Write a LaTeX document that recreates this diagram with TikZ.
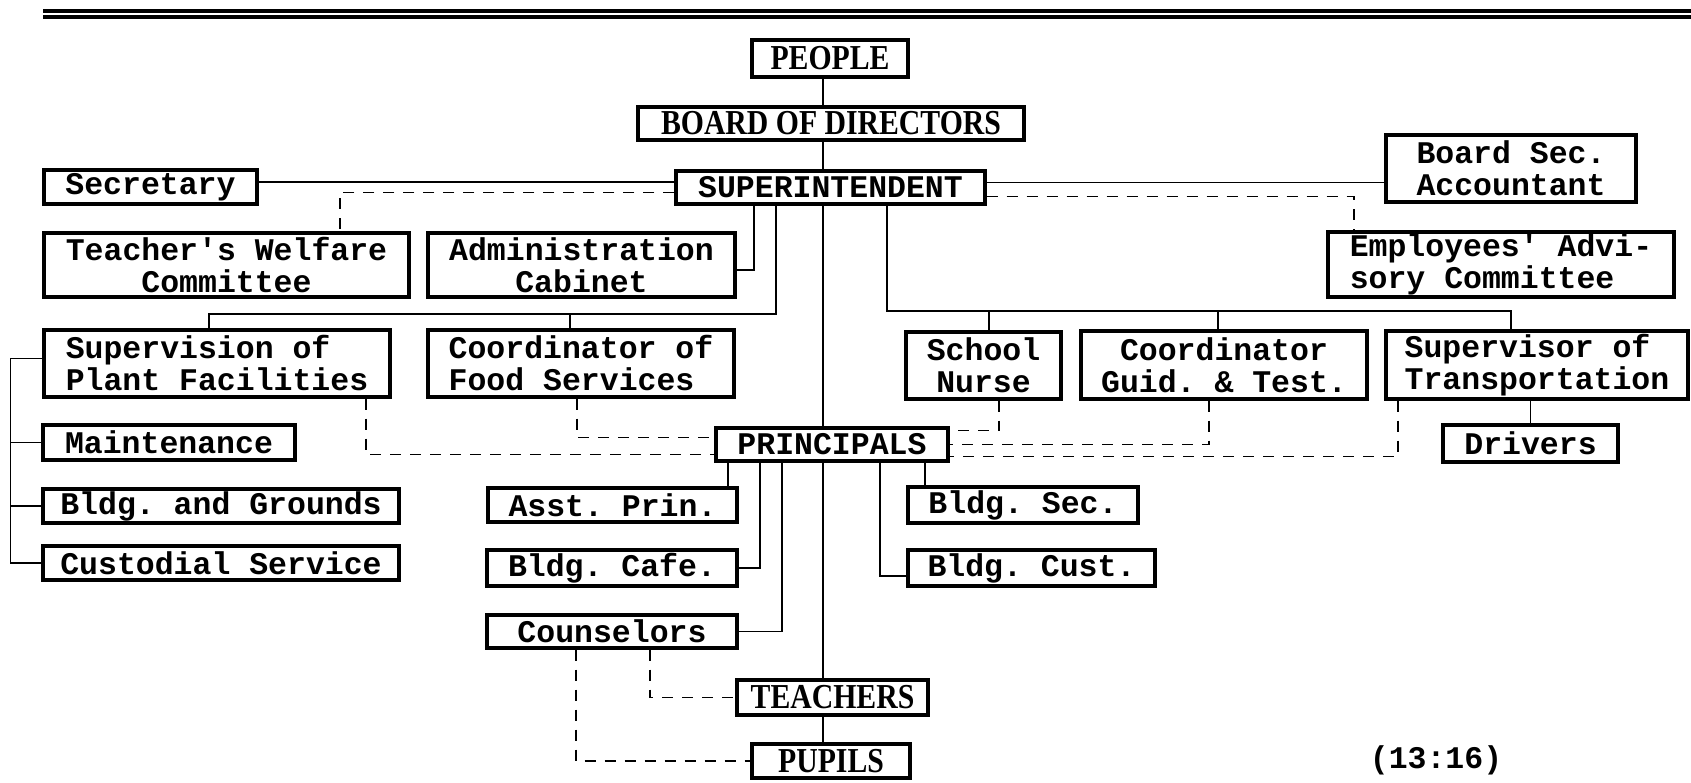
\documentclass[tikz,border=0pt]{standalone}
\usepackage{fontspec}
\newfontfamily\typer{Liberation Mono}
\newfontfamily\titler[FakeStretch=0.85]{Liberation Serif}
\frenchspacing
\tikzset{
  box/.style  ={draw=black,line width=3.2pt,fill=white,inner sep=0pt,align=center,
                font=\typer\bfseries\fontsize{31.5}{32}\selectfont},
  ttl/.style  ={box,font=\titler\bfseries\fontsize{35}{35}\selectfont},
  sz/.style 2 args={minimum width=#1pt,minimum height=#2pt},
  con/.style  ={draw=black,line width=1.8pt},
  dsh/.style  ={con,line width=1.5pt,dash pattern=on 11pt off 9pt},
  rule/.style ={draw=black,line width=4pt},
  tag/.style  ={font=\typer\bfseries\fontsize{31.5}{32}\selectfont,inner sep=0pt},
}

\begin{document}
\begin{tikzpicture}[x=1pt,y=1pt]
\useasboundingbox (0,0) rectangle (1691,-783);
\draw[rule] (43,-11) -- (1691,-11);
\draw[rule] (43,-17.5) -- (1691,-17.5);

% ---- top of the chart ---------------------------------------------------
\node[ttl,sz={156}{37}] (people) at (830,-58.5) {PEOPLE};
\node[ttl,sz={386}{33}] (board)  at (831,-123.5) {BOARD OF DIRECTORS};
\node[box,sz={309}{33}] (supt)   at (830.5,-187.5) {SUPERINTENDENT};
\node[box,sz={213}{34}] (secretary) at (150.5,-187) {Secretary};
\node[box,sz={250}{67}] (boardsec)  at (1511,-168.5) {Board Sec.\\Accountant};

% ---- committees ---------------------------------------------------------
\node[box,sz={365}{64}] (welfare)  at (226.5,-265) {Teacher's Welfare\\Committee};
\node[box,sz={307}{64}] (cabinet)  at (581.5,-265) {Administration\\Cabinet};
\node[box,sz={346}{65},align=left] (advisory) at (1501,-264.5) {Employees' Advi-\\sory Committee};

% ---- staff services -----------------------------------------------------
\node[box,sz={346}{67},align=left] (plant) at (217,-363.5) {Supervision of\\Plant Facilities};
\node[box,sz={306}{67},align=left] (food)  at (581,-363.5) {Coordinator of\\Food Services};
\node[box,sz={155}{67}] (nurse)  at (983.5,-365.5) {School\\Nurse};
\node[box,sz={286}{68}] (guid)   at (1224,-365) {Coordinator\\Guid. \& Test.};
\node[box,sz={302}{68},align=left] (transp) at (1537,-365) {Supervisor of\\Transportation};
\node[box,sz={175}{37}] (drivers) at (1530.5,-443.5) {Drivers};

\node[box,sz={252}{35}] (maint)     at (169,-442.5) {Maintenance};
\node[box,sz={356}{34}] (grounds)   at (221,-506) {Bldg. and Grounds};
\node[box,sz={356}{34}] (custodial) at (221,-563) {Custodial Service};

% ---- schools ------------------------------------------------------------
\node[box,sz={232}{33}] (principals) at (832,-444.5) {PRINCIPALS};
\node[box,sz={249}{34}] (asstprin)   at (612.5,-505) {Asst. Prin.};
\node[box,sz={250}{36}] (cafe)       at (612,-568) {Bldg. Cafe.};
\node[box,sz={250}{33}] (counselors) at (612,-631.5) {Counselors};
\node[box,sz={230}{36}] (bldgsec)    at (1023,-505) {Bldg. Sec.};
\node[box,sz={247}{36}] (cust)       at (1031.5,-568) {Bldg. Cust.};
\node[ttl,sz={191}{35}] (teachers)   at (832.5,-697.5) {TEACHERS};
\node[ttl,sz={158}{34}] (pupils)     at (831,-761) {PUPILS};
\node[tag] (code) at (1436,-760) {(13:16)};

% ---- line of authority --------------------------------------------------
\coordinate (spine) at (823,0);
\foreach \a/\b in {people/board,board/supt,supt/principals,principals/teachers,teachers/pupils}
  {\draw[con] (\a.south -| spine) -- (\b.north -| spine);}

\draw[con] ([yshift=5pt]secretary.east) -- ([yshift=5pt]secretary.east -| supt.west);
\draw[con] ([yshift=5pt]supt.east) -- ([yshift=5pt]supt.east -| boardsec.west);
\draw[con] ([xshift=-76.5pt]supt.south) |- ([yshift=-5pt]cabinet.east);
\draw[con] ([xshift=-54.5pt]supt.south) |- ([xshift=-8pt,yshift=14pt]plant.north) -- ([xshift=-8pt]plant.north);
\draw[con] ([xshift=-11pt]food.north) -- ++(0,14);
\draw[con] ([xshift=56.5pt]supt.south) |- ([xshift=-26pt,yshift=18pt]transp.north) -- ([xshift=-26pt]transp.north);
\draw[con] ([xshift=5.5pt]nurse.north) -- ++(0,19);
\draw[con] ([xshift=-6pt]guid.north) -- ++(0,18);
\draw[con] (drivers.north) -- (drivers.north |- transp.south);

\draw[con] ([yshift=5pt]plant.west) -- ++(-32,0) |- (custodial.west);
\draw[con] (maint.west) -- ++(-31,0);
\draw[con] (grounds.west) -- ++(-31,0);

\draw[con] ([xshift=-104pt]principals.south) -- ([xshift=-104pt]principals.south |- asstprin.north);
\draw[con] ([xshift=-72pt]principals.south) |- (cafe.east);
\draw[con] ([xshift=-50pt]principals.south) |- (counselors.east);
\draw[con] ([xshift=48pt]principals.south) |- ([yshift=-8pt]cust.west);
\draw[con] ([xshift=93pt]principals.south) -- ([xshift=93pt]principals.south |- bldgsec.north);

% ---- advisory lines -----------------------------------------------------
\draw[dsh] ([yshift=-5pt]supt.west) -| ([xshift=113.5pt]welfare.north);
\draw[dsh] ([yshift=-9pt]supt.east) -| ([xshift=-147pt]advisory.north);
\draw[dsh] ([xshift=-4pt]food.south) |- ([yshift=7pt]principals.west);
\draw[dsh] ([xshift=149pt]plant.south) |- ([yshift=-10pt]principals.west);
\draw[dsh] ([xshift=15.5pt]nurse.south) |- ([yshift=14pt]principals.east);
\draw[dsh] ([xshift=-15pt]guid.south) |- (principals.east);
\draw[dsh] ([xshift=-139pt]transp.south) |- ([yshift=-12pt]principals.east);
\draw[dsh] ([xshift=38pt]counselors.south) |- (teachers.west);
\draw[dsh] ([xshift=-36pt]counselors.south) |- (pupils.west);
\end{tikzpicture}
\end{document}
